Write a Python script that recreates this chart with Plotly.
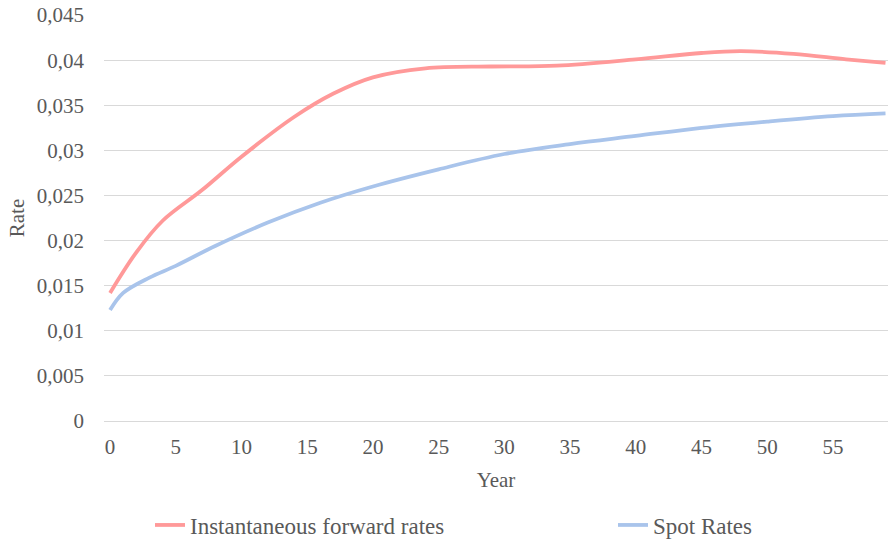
import plotly.graph_objects as go

# Readings (year -> rate)
forward_years = [0, 2, 4, 7, 10, 14, 17, 20, 24, 29, 34, 40, 45, 48, 52, 56, 59]
forward_rates = [0.0142, 0.0187, 0.0222, 0.0256, 0.0293, 0.0337, 0.0363, 0.0381, 0.0391,
                 0.0393, 0.0394, 0.0401, 0.0408, 0.0410, 0.0407, 0.0401, 0.0397]
spot_years = [0, 1, 3, 5, 8, 12, 16, 20, 25, 30, 35, 40, 45, 50, 55, 59]
spot_rates = [0.0123, 0.0142, 0.0159, 0.0172, 0.0194, 0.0220, 0.0242, 0.0260, 0.0279,
              0.0296, 0.0307, 0.0316, 0.0325, 0.0332, 0.0338, 0.0341]

FONT = "Liberation Serif"
TXT = "#595959"
W, H = 888, 539

fig = go.Figure()
fig.add_trace(go.Scatter(x=forward_years, y=forward_rates, mode="lines",
                         name="Instantaneous forward rates", legend="legend",
                         line=dict(color="#FF9999", width=3.8, shape="spline", smoothing=1.0)))
fig.add_trace(go.Scatter(x=spot_years, y=spot_rates, mode="lines", name="Spot Rates",
                         legend="legend2",
                         line=dict(color="#A9C4EB", width=3.8, shape="spline", smoothing=1.0)))

leg_common = dict(orientation="h", xref="container", yref="container", yanchor="middle",
                  xanchor="left", y=1 - 525 / H, bgcolor="rgba(0,0,0,0)",
                  font=dict(family=FONT, size=23, color=TXT))

fig.update_layout(
    width=W, height=H,
    margin=dict(l=104, r=0, t=15, b=H - 421, autoexpand=False),
    paper_bgcolor="white", plot_bgcolor="white",
    separators=",.",
    font=dict(family=FONT, color=TXT, size=21),
    showlegend=True,
    legend=dict(leg_common, x=150 / W),
    legend2=dict(leg_common, x=613 / W),
    xaxis=dict(range=[-0.46, 59.19], tick0=0, dtick=5, showgrid=False, zeroline=False,
               showline=False, ticks="", automargin=False, ticklabelstandoff=11,
               tickfont=dict(family=FONT, size=21, color=TXT),
               title=dict(text="Year", font=dict(family=FONT, size=21, color=TXT), standoff=14)),
    yaxis=dict(range=[0, 0.04501], dtick=0.005, tickformat="~g", showgrid=True,
               gridcolor="#D9D9D9", gridwidth=1, zeroline=True, zerolinecolor="#D9D9D9",
               zerolinewidth=1, showline=False, ticks="", ticklabelstandoff=19, automargin=False,
               tickfont=dict(family=FONT, size=21, color=TXT),
               title=dict(text="Rate", font=dict(family=FONT, size=21, color=TXT), standoff=6)),
)

fig.write_html(
    "out.html",
    config={"displayModeBar": False},
    post_script="document.body.style.margin='0';document.body.style.overflow='hidden';",
)
